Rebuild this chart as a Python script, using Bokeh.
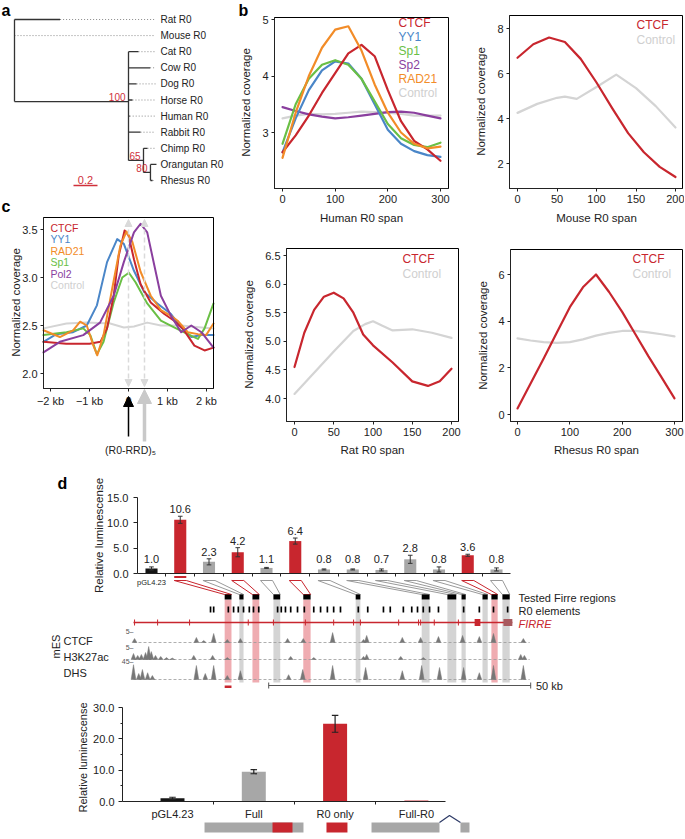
import math
from bokeh.plotting import figure
from bokeh.models import (Range1d, LinearAxis, FixedTicker, Label, Arrow, NormalHead,
                          ColumnDataSource, NumeralTickFormatter)
from bokeh.layouts import row, column
from bokeh.embed import file_html
from bokeh.resources import INLINE
from bokeh.core.properties import value

try:
    from bokeh.models import Spline
except Exception:
    Spline = None

FONT = "Liberation Sans"
RED = "#c8262e"
BLUE = "#4a86c8"
GREEN = "#6abf45"
PURPLE = "#8a3f9e"
ORANGE = "#f28c28"
CTRL = "#d4d4d4"
CTRL_TXT = "#cfcfcf"
BARGRAY = "#a7a7a7"
BARBLACK = "#151515"
INK = "#222222"
SUPPORT = "#d0303a"

# ---------------- panel a : tree ----------------
tip_names = ["Rat R0", "Mouse R0", "Cat R0", "Cow R0", "Dog R0", "Horse R0",
             "Human R0", "Rabbit R0", "Chimp R0", "Orangutan R0", "Rhesus R0"]
tip_parent = [0.0, 0.0, 0.95, 0.95, 0.95, 0.95, 0.95, 0.95, 1.075, 1.133, 1.133]
tip_length = [0.38, 0.0, 0.083, 0.18, 0.067, 0.033, 0.01, 0.10, 0.033, 0.05, 0.017]
node_depth = [0.0, 0.95, 1.075, 1.133]
node_parent = [0.0, 0.0, 0.95, 1.075]
node_row = [2.5, 5.1, 8.75, 9.5]
node_top = [0.0, 2.0, 8.0, 9.0]
node_bottom = [5.1, 8.75, 9.5, 10.0]
node_support = ["", "100", "65", "80"]
tree_scale = 0.2

# ---------------- panel b : human ----------------
human_x = [0, 25, 50, 75, 100, 125, 150, 175, 200, 225, 250, 275, 300]
human_ctcf = [2.65, 2.95, 3.3, 3.7, 4.05, 4.4, 4.55, 4.35, 3.75, 3.2, 2.85, 2.7, 2.5]
human_yy1 = [2.65, 3.25, 3.75, 4.1, 4.26, 4.22, 3.95, 3.5, 3.05, 2.8, 2.67, 2.6, 2.57]
human_sp1 = [2.8, 3.5, 3.95, 4.2, 4.28, 4.2, 3.95, 3.55, 3.15, 2.9, 2.78, 2.74, 2.82]
human_sp2 = [3.45, 3.38, 3.32, 3.28, 3.25, 3.27, 3.3, 3.33, 3.36, 3.37, 3.35, 3.3, 3.25]
human_rad21 = [2.55, 3.35, 4.0, 4.5, 4.82, 4.88, 4.45, 3.85, 3.35, 3.0, 2.8, 2.72, 2.75]
human_ctrl = [3.25, 3.3, 3.33, 3.32, 3.33, 3.35, 3.37, 3.36, 3.35, 3.33, 3.3, 3.3, 3.3]

# ---------------- panel b : mouse ----------------
mouse_x = [0, 20, 40, 60, 80, 100, 120, 140, 160, 180, 200]
mouse_ctcf = [6.7, 7.3, 7.6, 7.4, 6.65, 5.6, 4.45, 3.35, 2.5, 1.85, 1.4]
mouse_ctrl_x = [0, 25, 50, 60, 75, 100, 125, 150, 175, 200]
mouse_ctrl = [4.25, 4.65, 4.92, 4.97, 4.87, 5.4, 5.95, 5.35, 4.55, 3.6]

# ---------------- panel b : rat ----------------
rat_x = [0, 12.5, 25, 37.5, 50, 62.5, 75, 87.5, 100, 125, 150, 170, 185, 200]
rat_ctcf = [4.55, 5.15, 5.55, 5.78, 5.85, 5.75, 5.5, 5.12, 4.93, 4.63, 4.3, 4.22, 4.3, 4.52]
rat_ctrl_x = [0, 25, 50, 75, 90, 100, 112, 125, 150, 175, 200]
rat_ctrl = [4.08, 4.45, 4.82, 5.18, 5.3, 5.35, 5.27, 5.19, 5.21, 5.15, 5.06]

# ---------------- panel b : rhesus ----------------
rh_x = [0, 25, 50, 75, 100, 125, 150, 175, 200, 225, 250, 275, 300]
rh_ctcf = [0.26, 1.33, 2.4, 3.5, 4.6, 5.45, 6.0, 5.25, 4.4, 3.45, 2.5, 1.6, 0.69]
rh_ctrl = [3.26, 3.17, 3.1, 3.07, 3.1, 3.22, 3.38, 3.5, 3.58, 3.58, 3.52, 3.44, 3.35]

# ---------------- panel c ----------------
c_ctcf_x = [-2.18, -1.6, -1.0, -0.72, -0.55, -0.38, -0.25, -0.1, 0.0, 0.14, 0.31, 0.57, 0.92, 1.17, 1.39, 1.69, 1.95, 2.18]
c_ctcf_y = [2.33, 2.31, 2.31, 2.33, 2.47, 2.81, 3.23, 3.49, 3.44, 3.19, 2.93, 2.74, 2.62, 2.55, 2.47, 2.29, 2.24, 2.27]
c_yy1_x = [-2.18, -1.85, -1.42, -1.07, -0.81, -0.55, -0.29, -0.12, 0.14, 0.4, 0.74, 1.09, 1.35, 1.61, 1.87, 2.18]
c_yy1_y = [2.33, 2.41, 2.43, 2.5, 2.71, 3.16, 3.4, 3.35, 3.07, 2.85, 2.73, 2.62, 2.48, 2.38, 2.4, 2.4]
c_rad21_x = [-2.18, -1.76, -1.42, -1.24, -1.07, -0.9, -0.8, -0.64, -0.42, -0.21, -0.05, 0.1, 0.31, 0.57, 0.83, 1.09, 1.26, 1.52, 1.78, 1.99, 2.18]
c_rad21_y = [2.45, 2.38, 2.45, 2.54, 2.5, 2.29, 2.19, 2.4, 2.88, 3.33, 3.48, 3.37, 3.06, 2.81, 2.66, 2.6, 2.55, 2.43, 2.41, 2.4, 2.52]
c_sp1_x = [-2.18, -1.59, -1.16, -0.98, -0.81, -0.64, -0.38, -0.16, 0.01, 0.18, 0.48, 0.83, 1.17, 1.52, 1.78, 1.95, 2.18]
c_sp1_y = [2.4, 2.43, 2.47, 2.4, 2.2, 2.33, 2.74, 3.0, 3.05, 2.95, 2.73, 2.55, 2.48, 2.41, 2.36, 2.47, 2.73]
c_pol2_x = [-2.18, -1.76, -1.16, -0.73, -0.38, -0.12, 0.14, 0.31, 0.48, 0.66, 0.83, 1.09, 1.35, 1.61, 1.87, 2.18]
c_pol2_y = [2.22, 2.33, 2.4, 2.53, 2.81, 3.16, 3.47, 3.56, 3.47, 3.13, 2.81, 2.6, 2.43, 2.5, 2.43, 2.27]
c_ctrl_x = [-2.18, -1.59, -1.07, -0.47, -0.12, 0.14, 0.48, 0.83, 1.35, 1.87, 2.18]
c_ctrl_y = [2.47, 2.52, 2.53, 2.52, 2.48, 2.49, 2.53, 2.5, 2.5, 2.48, 2.47]
c_ticks = [-2, -1, 0, 1, 2]
c_tick_labels = ["\u22122 kb", "\u22121 kb", "0", "1 kb", "2 kb"]
c_marks = [0.0, 0.41]

# ---------------- panel d : top bars ----------------
top_vals = [1.0, 10.6, 2.3, 4.2, 1.1, 6.4, 0.8, 0.8, 0.7, 2.8, 0.8, 3.6, 0.8]
top_err = [0.3, 0.7, 0.6, 0.9, 0.1, 0.6, 0.1, 0.1, 0.2, 0.8, 0.5, 0.2, 0.3]
top_kind = ["ctrl", "r0", "gray", "r0", "gray", "r0", "gray", "gray", "gray", "gray", "gray", "r0", "gray"]
top_ticks = [0, 5, 10, 15]

# genome (kb from the left end of the shown locus)
region_start = [17.4, 20.2, 22.7, 26.7, 32.4, 42.4, 55.0, 59.9, 62.6, 66.6, 68.3, 70.4]
region_end = [18.7, 21.0, 24.0, 28.0, 33.8, 43.3, 56.5, 61.6, 63.4, 67.6, 69.5, 71.8]
r0_pos = [14.7, 15.3, 18.1, 19.1, 20.0, 21.0, 22.1, 22.9, 23.9, 27.5, 28.2, 29.0, 30.0, 31.3,
          32.6, 34.4, 35.7, 37.0, 38.2, 39.5, 42.9, 44.7, 47.7, 49.0, 51.5, 53.1, 54.2, 55.3,
          56.5, 58.2, 63.0, 66.0, 68.7, 71.4]
gene_start, gene_end = 0.0, 72.3
exon_pos = [0.2, 4.6, 10.7, 21.9, 26.7, 32.8, 38.2, 42.0, 43.3, 50.6, 54.4, 54.8, 57.4, 62.0]
exon_box_start = [65.1, 70.6]
exon_box_end = [66.2, 72.3]
track_end = 75.6
ctcf_pos = [0.2, 12.0, 13.4, 15.3, 17.9, 20.4, 29.4, 32.4, 38.0, 43.9, 44.5, 51.3, 54.8, 58.2, 62.8, 66.0, 68.7, 74.4]
ctcf_h = [1.8, 2.3, 0.9, 4.1, 1.4, 1.8, 1.8, 1.8, 4.5, 1.4, 3.2, 2.3, 2.3, 2.7, 3.2, 2.7, 4.1, 1.8]
h3_pos = [0.0, 0.8, 1.5, 2.3, 2.9, 3.4, 4.2, 5.2, 6.3, 7.4, 11.5, 15.1, 17.9, 30.0, 34.4, 43.9, 44.5, 51.0, 55.3, 73.9, 74.6]
h3_h = [2.5, 1.7, 2.1, 2.9, 5.4, 3.3, 1.7, 1.3, 0.8, 0.6, 1.7, 1.7, 0.8, 1.3, 0.8, 1.3, 2.1, 1.3, 0.8, 2.1, 1.7]
dhs_pos = [0.0, 1.0, 1.7, 2.7, 3.6, 12.0, 13.7, 15.3, 17.9, 20.4, 29.6, 32.3, 38.0, 44.3, 51.3, 55.0, 58.4, 63.0, 66.0, 68.7, 74.4]
dhs_h = [37, 15, 25, 17, 10, 35, 15, 35, 10, 22, 12, 25, 35, 30, 22, 35, 30, 30, 17, 35, 35]
track_names = ["CTCF", "H3K27ac", "DHS"]
track_max = [5, 5, 45]
scale_kb = 50
scale_start = 25.8

# ---------------- panel d : bottom bars ----------------
bot_cats = ["pGL4.23", "Full", "R0 only", "Full-R0"]
bot_vals = [1.0, 9.5, 24.8, 0.3]
bot_err = [0.35, 0.65, 2.7, 0.0]
bot_kind = ["ctrl", "gray", "r0", "r0"]
bot_ticks = [0, 10, 20, 30]
con_left = [0.394, 1.23, 1.894, 2.448, 3.542]
con_right = [1.611, 1.476, 2.152, 3.284, 3.653]
con_kind = ["gray", "r0", "r0", "gray", "gray"]
caret_x = [3.284, 3.407, 3.542]

KIND_COLOR = {"ctrl": BARBLACK, "r0": RED, "gray": BARGRAY}


# ================= helpers =================
def lin(p0, v0, p1, v1):
    k = (v1 - v0) / (p1 - p0)
    return lambda px: v0 + (px - p0) * k


def canvas_fig(x0, y0, w, h, fx, fy):
    p = figure(width=w, height=h, x_range=Range1d(fx(x0), fx(x0 + w)),
               y_range=Range1d(fy(y0 + h), fy(y0)),
               x_axis_type=None, y_axis_type=None, output_backend="svg",
               toolbar_location=None, title=None,
               min_border_left=0, min_border_right=0, min_border_top=0, min_border_bottom=0)
    p.outline_line_color = None
    p.background_fill_color = "white"
    p.border_fill_color = "white"
    return p


def style_axis(ax, size="11px"):
    ax.axis_line_color = INK
    ax.axis_line_width = 1
    ax.major_tick_line_color = INK
    ax.major_tick_out = 3
    ax.major_tick_in = 0
    ax.minor_tick_line_color = None
    ax.major_label_text_font = FONT
    ax.major_label_text_font_size = size
    ax.major_label_text_color = INK
    ax.major_label_standoff = 3


def box_axes(p, bx, by, xticks, yticks, yfmt=None, xover=None):
    xa = LinearAxis(ticker=FixedTicker(ticks=xticks), fixed_location=by[0], bounds=bx)
    style_axis(xa)
    if xover:
        xa.major_label_overrides = xover
    p.add_layout(xa, "below")
    ya = LinearAxis(ticker=FixedTicker(ticks=yticks), fixed_location=bx[0], bounds=by)
    style_axis(ya)
    if yfmt:
        ya.formatter = NumeralTickFormatter(format=yfmt)
    p.add_layout(ya, "left")


def frame_box(p, bx, by):
    p.quad(left=[bx[0]], right=[bx[1]], bottom=[by[0]], top=[by[1]], fill_color=None,
           line_color="black", line_width=1)


def curve(p, xs, ys, color, width=2.2):
    src = ColumnDataSource(dict(x=list(xs), y=list(ys)))
    if Spline is not None:
        p.add_glyph(src, Spline(x="x", y="y", line_color=color, line_width=width, tension=0.5))
    else:
        p.line("x", "y", source=src, line_color=color, line_width=width,
               line_join="round", line_cap="round")


def lab(p, x, y, text, color=INK, size="11px", align="left", baseline="middle",
        style="normal", angle=0.0, xr="default", yr="default"):
    p.add_layout(Label(x=x, y=y, text=text, text_color=color, text_font=FONT,
                       text_font_size=size, text_align=align, text_baseline=baseline,
                       text_font_style=style, angle=angle, x_range_name=xr, y_range_name=yr))


def legend(p, x, ys, names, colors, size="12px"):
    for yy, nm, cl in zip(ys, names, colors):
        lab(p, x, yy, nm, color=cl, size=size)


def panel_letter(p, x, y, t):
    lab(p, x, y, t, size="16px", style="bold", color="black")


# ================= panel a =================
fx, fy = lin(14, 0.0, 134, 1.0), lin(19, 0.0, 180, 10.0)
pa = canvas_fig(0, 0, 232, 195, fx, fy)
rows_ = list(range(len(tip_names)))
tip_end = [a + b for a, b in zip(tip_parent, tip_length)]
leader_end = fx(155)
pa.segment(x0=tip_end, y0=rows_, x1=[max(leader_end, e) for e in tip_end], y1=rows_,
           line_color="#8a8a8a", line_width=1, line_dash="1 2")
pa.segment(x0=tip_parent, y0=rows_, x1=tip_end, y1=rows_, line_color="#333333", line_width=1.3)
pa.segment(x0=node_depth, y0=node_top, x1=node_depth, y1=node_bottom,
           line_color="#333333", line_width=1.3)
pa.segment(x0=node_parent, y0=node_row, x1=node_depth, y1=node_row,
           line_color="#333333", line_width=1.3)
pa.text(x=[fx(160)] * len(tip_names), y=rows_, text=tip_names,
        text_font=value(FONT), text_font_size="10px", text_baseline="middle",
        text_color=INK)
pa.text(x=[d - 0.025 for d in node_depth], y=[r - 0.28 for r in node_row], text=node_support,
        text_font=value(FONT), text_font_size="10px", text_align="right",
        text_baseline="middle", text_color=SUPPORT)
sb0 = fx(73)
pa.segment(x0=[sb0], y0=[fy(185)], x1=[sb0 + tree_scale], y1=[fy(185)], line_color=SUPPORT,
           line_width=1.3)
pa.text(x=[sb0 + tree_scale / 2], y=[fy(183)], text=[f"{tree_scale:.1f}"], text_font=value(FONT),
        text_font_size="11px", text_align="center", text_baseline="bottom", text_color=SUPPORT)
panel_letter(pa, fx(1), fy(10), "a")

# ================= panel c =================
fx, fy = lin(128, 0.0, 167, 1.0), lin(229, 3.5, 373, 2.0)
pc = canvas_fig(0, 195, 232, 275, fx, fy)
bx, by = (fx(43), fx(213)), (fy(388), fy(217))
for xm in c_marks:
    pc.add_layout(Arrow(x_start=xm, y_start=fy(386), x_end=xm, y_end=fy(219),
                        line_color="#dadada", line_width=1.5, line_dash="5 3",
                        start=NormalHead(size=7, fill_color="#dadada", line_color="#dadada"),
                        end=NormalHead(size=7, fill_color="#dadada", line_color="#dadada")))
curve(pc, c_ctrl_x, c_ctrl_y, CTRL, 2.0)
curve(pc, c_yy1_x, c_yy1_y, BLUE, 2.0)
curve(pc, c_sp1_x, c_sp1_y, GREEN, 2.0)
curve(pc, c_ctcf_x, c_ctcf_y, RED, 2.0)
curve(pc, c_rad21_x, c_rad21_y, ORANGE, 2.0)
curve(pc, c_pol2_x, c_pol2_y, PURPLE, 2.0)
frame_box(pc, bx, by)
box_axes(pc, bx, by, c_ticks, [2.0, 2.5, 3.0, 3.5], yfmt="0.0",
         xover={t: s for t, s in zip(c_ticks, c_tick_labels)})
legend(pc, fx(50), [fy(v) for v in (227, 238.5, 250, 261.5, 273, 284.5)],
       ["CTCF", "YY1", "RAD21", "Sp1", "Pol2", "Control"],
       [RED, BLUE, ORANGE, GREEN, PURPLE, CTRL_TXT], size="10.5px")
pc.add_layout(Arrow(x_start=c_marks[1], y_start=fy(441), x_end=c_marks[1], y_end=fy(389),
                    line_color="#c9c9c9", line_width=3.5,
                    end=NormalHead(size=14, fill_color="#c9c9c9", line_color="#c9c9c9")))
pc.add_layout(Arrow(x_start=c_marks[0], y_start=fy(436), x_end=c_marks[0], y_end=fy(396),
                    line_color="black", line_width=1.5,
                    end=NormalHead(size=10, fill_color="black", line_color="black")))
lab(pc, fx(130), fy(449), "(R0-RRD)\u2085", size="10.5px", align="center")
lab(pc, fx(15), fy(302), "Normalized coverage", size="11.5px", align="center",
    angle=math.pi / 2)
panel_letter(pc, fx(1), fy(206), "c")

# ================= panel b : human =================
fx, fy = lin(282, 0.0, 440, 300.0), lin(19, 5.0, 132, 3.0)
ph = canvas_fig(232, 0, 234, 240, fx, fy)
bx, by = (fx(274), fx(448)), (fy(188), fy(17))
curve(ph, human_x, human_ctrl, CTRL)
curve(ph, human_x, human_sp2, PURPLE)
curve(ph, human_x, human_yy1, BLUE)
curve(ph, human_x, human_sp1, GREEN)
curve(ph, human_x, human_ctcf, RED)
curve(ph, human_x, human_rad21, ORANGE)
frame_box(ph, bx, by)
box_axes(ph, bx, by, [0, 100, 200, 300], [3, 4, 5])
legend(ph, fx(398), [fy(v) for v in (22, 36, 50, 64, 78, 92)],
       ["CTCF", "YY1", "Sp1", "Sp2", "RAD21", "Control"],
       [RED, BLUE, GREEN, PURPLE, ORANGE, CTRL_TXT])
lab(ph, fx(245), fy(102), "Normalized coverage", size="11.5px", align="center",
    angle=math.pi / 2)
lab(ph, fx(361), fy(217), "Human R0 span", size="11.5px", align="center")
panel_letter(ph, fx(238), fy(10), "b")

# ================= panel b : mouse =================
fx, fy = lin(517, 0.0, 675, 200.0), lin(28, 8.0, 163, 2.0)
pm = canvas_fig(466, 0, 218, 240, fx, fy)
bx, by = (fx(509), fx(682)), (fy(188), fy(15))
curve(pm, mouse_ctrl_x, mouse_ctrl, CTRL)
curve(pm, mouse_x, mouse_ctcf, RED)
frame_box(pm, bx, by)
box_axes(pm, bx, by, [0, 50, 100, 150, 200], [2, 4, 6, 8])
legend(pm, fx(636), [fy(24), fy(39)], ["CTCF", "Control"], [RED, CTRL_TXT])
lab(pm, fx(480), fy(101), "Normalized coverage", size="11.5px", align="center",
    angle=math.pi / 2)
lab(pm, fx(596), fy(217), "Mouse R0 span", size="11.5px", align="center")

# ================= panel b : rat =================
fx, fy = lin(294, 0.0, 451, 200.0), lin(255, 6.5, 398, 4.0)
pr = canvas_fig(232, 240, 234, 230, fx, fy)
bx, by = (fx(286), fx(458)), (fy(421), fy(248))
curve(pr, rat_ctrl_x, rat_ctrl, CTRL)
curve(pr, rat_x, rat_ctcf, RED)
frame_box(pr, bx, by)
box_axes(pr, bx, by, [0, 50, 100, 150, 200], [4.0, 4.5, 5.0, 5.5, 6.0, 6.5], yfmt="0.0")
legend(pr, fx(402), [fy(258), fy(273)], ["CTCF", "Control"], [RED, CTRL_TXT])
lab(pr, fx(248), fy(334), "Normalized coverage", size="11.5px", align="center",
    angle=math.pi / 2)
lab(pr, fx(372), fy(449), "Rat R0 span", size="11.5px", align="center")

# ================= panel b : rhesus =================
fx, fy = lin(517, 0.0, 674, 300.0), lin(274, 6.0, 414, 0.0)
prh = canvas_fig(466, 240, 218, 230, fx, fy)
bx, by = (fx(510), fx(682)), (fy(421), fy(249))
curve(prh, rh_x, rh_ctrl, CTRL)
curve(prh, rh_x, rh_ctcf, RED)
frame_box(prh, bx, by)
box_axes(prh, bx, by, [0, 100, 200, 300], [0, 2, 4, 6])
legend(prh, fx(632), [fy(258), fy(273)], ["CTCF", "Control"], [RED, CTRL_TXT])
lab(prh, fx(482), fy(335), "Normalized coverage", size="11.5px", align="center",
    angle=math.pi / 2)
lab(prh, fx(596), fy(449), "Rhesus R0 span", size="11.5px", align="center")

# ================= panel d : top =================
fx, fy = lin(151, 0.0, 496, 12.0), lin(573, 0.0, 497, 15.0)
gx = lin(133, 0.0, 395, 50.0)
pd = canvas_fig(0, 470, 684, 230, fx, fy)
pd.extra_x_ranges = {"kb": Range1d(gx(0), gx(684))}
for nm, base_px, top_px, mx in zip(("ctcf", "h3", "dhs"), (642, 659, 679), (631, 647, 661),
                                   track_max):
    ty = lin(base_px, 0.0, top_px, float(mx))
    pd.extra_y_ranges[nm] = Range1d(ty(700), ty(470))
kb_span = gx(684) - gx(0)
bar_span = fx(684) - fx(0)


def kb2bar(k):
    return fx(0) + (k - gx(0)) / kb_span * bar_span


n_top = len(top_vals)
idx = list(range(n_top))
ax_x = fx(137)
ya = LinearAxis(ticker=FixedTicker(ticks=top_ticks), bounds=(0, top_ticks[-1]),
                fixed_location=ax_x)
style_axis(ya)
ya.major_tick_out = 4
ya.major_label_standoff = 5
ya.formatter = NumeralTickFormatter(format="0.0")
pd.add_layout(ya, "left")
xa = LinearAxis(ticker=FixedTicker(ticks=[0], minor_ticks=[i + 0.5 for i in range(n_top - 1)]),
                bounds=(ax_x, n_top - 0.5), fixed_location=0)
style_axis(xa, size="7.5px")
xa.major_tick_line_color = None
xa.minor_tick_line_color = INK
xa.minor_tick_out = 3
xa.minor_tick_in = 0
xa.major_label_standoff = 1
xa.major_label_overrides = {0: bot_cats[0]}
pd.add_layout(xa, "below")

band_kind = top_kind[1:]
pd.quad(left=region_start, right=region_end, top=fy(599), bottom=fy(682), x_range_name="kb",
        fill_color=["#ec9ea3" if k == "r0" else "#cdcdcd" for k in band_kind],
        fill_alpha=0.85, line_color=None)
top_cols = [KIND_COLOR[k] for k in top_kind]
pd.vbar(x=idx, top=top_vals, width=0.42, bottom=0, fill_color=top_cols, line_color=None)
lo = [v - e for v, e in zip(top_vals, top_err)]
hi = [v + e for v, e in zip(top_vals, top_err)]
pd.segment(x0=idx, y0=lo, x1=idx, y1=hi, line_color="#333333", line_width=1)
for yy in (lo, hi):
    pd.segment(x0=[i - 0.08 for i in idx], y0=yy, x1=[i + 0.08 for i in idx], y1=yy,
               line_color="#333333", line_width=1)
pd.text(x=idx, y=[max(h + 0.6, 2.0) for h in hi], text=[f"{v:.1f}" for v in top_vals],
        text_font=value(FONT), text_font_size="11px", text_align="center",
        text_baseline="bottom", text_color=INK)
cxs, cys, ccol = [], [], []
for j in range(len(region_start)):
    i = j + 1
    cxs.append([i - 0.21, i + 0.21, kb2bar(region_end[j]), kb2bar(region_start[j])])
    cys.append([fy(580), fy(580), fy(594), fy(594)])
    ccol.append(RED if top_kind[i] == "r0" else "#9a9a9a")
pd.patches(xs=cxs, ys=cys, fill_color=None, line_color=ccol, line_width=1)
pd.quad(left=[1 - 0.21], right=[1 + 0.21], top=[fy(575.5)], bottom=[fy(577.5)], fill_color=RED,
        line_color=None)
pd.quad(left=region_start, right=region_end, top=fy(594), bottom=fy(599), x_range_name="kb",
        fill_color="black", line_color=None)
pd.rect(x=r0_pos, y=fy(609), width=0.32, height=fy(606) - fy(612), x_range_name="kb",
        fill_color="black", line_color=None)
pd.segment(x0=[gene_start], y0=[fy(622)], x1=[gene_end], y1=[fy(622)], x_range_name="kb",
           line_color=RED, line_width=1.3)
pd.segment(x0=exon_pos, y0=fy(619), x1=exon_pos, y1=fy(625), x_range_name="kb",
           line_color=RED, line_width=1)
pd.quad(left=exon_box_start, right=exon_box_end, top=fy(618.5), bottom=fy(625.5),
        x_range_name="kb", fill_color=[RED, "#a85a5e"], line_color=None)
for rn, pos, hts in (("ctcf", ctcf_pos, ctcf_h), ("h3", h3_pos, h3_h), ("dhs", dhs_pos, dhs_h)):
    pd.segment(x0=[0.0], y0=[0], x1=[track_end], y1=[0], x_range_name="kb", y_range_name=rn,
               line_color="#9a9a9a", line_width=0.8, line_dash="3 2")
    pd.patches(xs=[[k - 0.45, k, k + 0.45] for k in pos], ys=[[0, h, 0] for h in hts],
               x_range_name="kb", y_range_name=rn, fill_color="#777777", line_color="#777777",
               line_width=0.5)
pd.segment(x0=[scale_start], y0=[fy(685)], x1=[scale_start + scale_kb], y1=[fy(685)],
           x_range_name="kb", line_color="#555555", line_width=1)
pd.segment(x0=[scale_start, scale_start + scale_kb], y0=[fy(682), fy(682)],
           x1=[scale_start, scale_start + scale_kb], y1=[fy(688), fy(688)], x_range_name="kb",
           line_color="#555555", line_width=1)
pd.quad(left=[region_start[0]], right=[region_end[0]], top=[fy(685)], bottom=[fy(687.5)],
        x_range_name="kb", fill_color=RED, line_color=None)
lab(pd, scale_start + scale_kb + 1.0, fy(685), f"{scale_kb} kb", xr="kb")
lab(pd, gx(518), fy(597), "Tested Firre regions", xr="kb")
lab(pd, gx(518), fy(610), "R0 elements", xr="kb")
lab(pd, gx(518), fy(623), "FIRRE", xr="kb", color=RED, style="italic")
panel_letter(pd, fx(57), fy(483), "d")
lab(pd, fx(98), fy(535), "Relative luminescense", size="11.5px", align="center",
    angle=math.pi / 2)
lab(pd, fx(55), fy(646), "mES", align="center", angle=math.pi / 2)
for nm, py in zip(track_names, (640, 656, 672)):
    lab(pd, fx(63), fy(py), nm)
for mx, py in zip(track_max, (631, 647, 661)):
    lab(pd, fx(133), fy(py), f"{mx}\u2013", size="7px", align="right", color="#555555")

# ================= panel d : bottom =================
fx, fy = lin(172, 0.0, 253.3, 1.0), lin(801, 0.0, 707, 30.0)
pb = canvas_fig(0, 700, 684, 138, fx, fy)
bidx = list(range(len(bot_cats)))
bx0 = fx(122)
xb = LinearAxis(ticker=FixedTicker(ticks=bidx, minor_ticks=[i + 0.5 for i in bidx[:-1]]),
                bounds=(bx0, fx(445)), fixed_location=0)
style_axis(xb)
xb.major_tick_line_color = None
xb.major_tick_out = 0
xb.minor_tick_line_color = INK
xb.minor_tick_out = 3
xb.minor_tick_in = 0
xb.major_label_standoff = 3
xb.major_label_overrides = {i: c for i, c in zip(bidx, bot_cats)}
pb.add_layout(xb, "below")
yb = LinearAxis(ticker=FixedTicker(ticks=bot_ticks, minor_ticks=[5, 15, 25]),
                bounds=(0, bot_ticks[-1]), fixed_location=bx0)
style_axis(yb)
yb.major_tick_out = 4
yb.major_label_standoff = 4
yb.minor_tick_line_color = INK
yb.minor_tick_out = 2
yb.minor_tick_in = 0
yb.formatter = NumeralTickFormatter(format="0.0")
pb.add_layout(yb, "left")
lab(pb, fx(82), fy(757), "Relative luminescense", size="11px", align="center",
    angle=math.pi / 2)
pb.vbar(x=bidx, top=bot_vals, width=0.295, bottom=0,
        fill_color=[KIND_COLOR[k] for k in bot_kind], line_color=None)
blo = [v - e for v, e in zip(bot_vals, bot_err)]
bhi = [v + e for v, e in zip(bot_vals, bot_err)]
eidx = [i for i, e in zip(bidx, bot_err) if e > 0]
pb.segment(x0=eidx, y0=[blo[i] for i in eidx], x1=eidx, y1=[bhi[i] for i in eidx],
           line_color="#222222", line_width=1.2)
for yy in (blo, bhi):
    pb.segment(x0=[i - 0.04 for i in eidx], y0=[yy[i] for i in eidx],
               x1=[i + 0.04 for i in eidx], y1=[yy[i] for i in eidx],
               line_color="#222222", line_width=1.2)
pb.quad(left=con_left, right=con_right, bottom=fy(832), top=fy(822),
        fill_color=[KIND_COLOR[k] for k in con_kind], line_color=None)
pb.line(x=caret_x, y=[fy(822), fy(815), fy(822)], line_color="#2d3a66", line_width=1.2)

layout = column(
    row(column(pa, pc), column(row(ph, pm), row(pr, prh))),
    pd, pb,
)

open("out.html", "w").write(file_html(layout, INLINE))
